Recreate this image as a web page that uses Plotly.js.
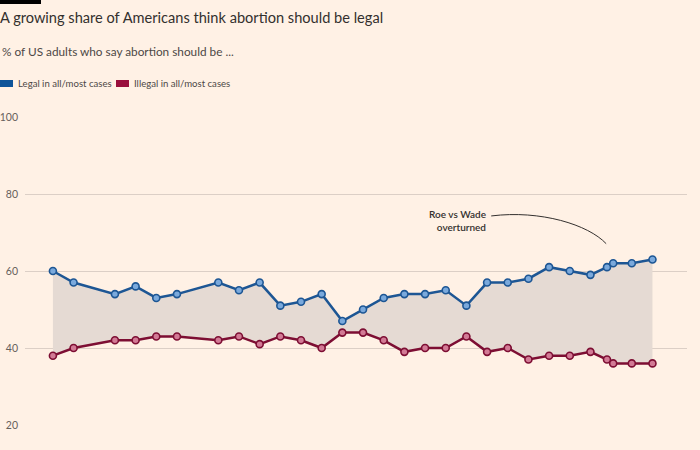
<!DOCTYPE html>
<html>
<head>
<meta charset="utf-8">
<script src="https://cdn.plot.ly/plotly-3.0.1.min.js"></script>
<style>
  html, body { margin: 0; padding: 0; background: #fff1e5; }
  #chart { width: 700px; height: 450px; }
</style>
</head>
<body>
<div id="chart"></div>
<script>
// Survey dates (decimal years)
const years = [1995, 1996, 1998, 1999, 2000, 2001, 2003, 2004, 2005, 2006, 2007, 2008, 2009,
  2010, 2011, 2012, 2013, 2014, 2015, 2016, 2017, 2018, 2019, 2020, 2021, 2021.8, 2022.1, 2023, 2024];
// % saying legal in all/most cases
const legal = [60, 57, 54, 56, 53, 54, 57, 55, 57, 51, 52, 54, 47,
  50, 53, 54, 54, 55, 51, 57, 57, 58, 61, 60, 59, 61, 62, 62, 63];
// % saying illegal in all/most cases
const illegal = [38, 40, 42, 42, 43, 43, 42, 43, 41, 43, 42, 40, 44,
  44, 42, 39, 40, 40, 43, 39, 40, 37, 38, 38, 39, 37, 36, 36, 36];
const seriesNames = ["Legal in all/most cases", "Illegal in all/most cases"];
const yTicks = [20, 40, 60, 80, 100];

const BLUE = "#1d5694", BLUE_FILL = "#7aa9dc";
const RED = "#7d0e33", RED_FILL = "#d27a95";
const BG = "#fff1e5";

const traces = [
  { x: years, y: illegal, mode: "lines", line: { width: 0, color: "rgba(0,0,0,0)" },
    showlegend: false, hoverinfo: "skip" },
  { x: years, y: legal, mode: "lines", fill: "tonexty", fillcolor: "#e5dad3",
    line: { width: 0, color: "rgba(0,0,0,0)" }, showlegend: false, hoverinfo: "skip" },
  { x: years, y: illegal, name: seriesNames[1], mode: "lines+markers",
    line: { color: RED, width: 2.5 },
    marker: { size: 7, color: RED_FILL, line: { color: RED, width: 1.6 } }, showlegend: false },
  { x: years, y: legal, name: seriesNames[0], mode: "lines+markers",
    line: { color: BLUE, width: 2.5 },
    marker: { size: 7, color: BLUE_FILL, line: { color: BLUE, width: 1.6 } }, showlegend: false }
];

const FONT = "Lato, sans-serif";

const layout = {
  width: 700, height: 450,
  paper_bgcolor: BG, plot_bgcolor: BG,
  margin: { l: 25, r: 13, t: 117, b: 25 },
  font: { family: FONT, color: "#66605c", size: 10 },
  showlegend: false,
  xaxis: { range: [1993.65, 2025.67], showgrid: false, zeroline: false,
    showticklabels: false, ticks: "", showline: false, fixedrange: true },
  yaxis: { range: [20, 100], tickvals: yTicks, ticktext: yTicks.map(String),
    showgrid: true, gridcolor: "#dccfc6", gridwidth: 1, zeroline: false,
    showline: false, ticks: "", ticklabelstandoff: 6,
    tickfont: { family: FONT, size: 10.5, color: "#66605c" }, fixedrange: true },
  title: { text: "A growing share of Americans think abortion should be legal",
    x: 0, xref: "container", xanchor: "left", y: 1 - 18 / 450, yref: "container", yanchor: "middle",
    font: { family: FONT, size: 14.6, color: "#33302e" }, pad: { l: 0, t: 0, b: 0, r: 0 } },
  shapes: [
    { type: "rect", xref: "paper", yref: "paper", x0: -25 / 662, x1: 16 / 662,
      y0: 1 + 113 / 308, y1: 1 + 117 / 308, fillcolor: "#000", line: { width: 0 } },
    { type: "rect", xref: "paper", yref: "paper", x0: -25 / 662, x1: -12 / 662,
      y0: 1 + (117 - 87) / 308, y1: 1 + (117 - 80) / 308, fillcolor: "#0f5499", line: { width: 0 } },
    { type: "rect", xref: "paper", yref: "paper", x0: 91 / 662, x1: 104 / 662,
      y0: 1 + (117 - 87) / 308, y1: 1 + (117 - 80) / 308, fillcolor: "#990f3d", line: { width: 0 } },
    { type: "path", xref: "x", yref: "y",
      path: "M 2016.2,74.3 C 2018.6,75.9 2020.9,72.0 2021.76,67.1",
      line: { color: "#33302e", width: 1 } }
  ],
  annotations: [
    { text: "% of US adults who say abortion should be ...", xref: "paper", yref: "paper",
      x: -25 / 662, y: 1 + (117 - 51) / 308, xanchor: "left", yanchor: "middle", showarrow: false,
      font: { family: FONT, size: 11.8, color: "#4d4845" } },
    { text: seriesNames[0], xref: "paper", yref: "paper",
      x: -9 / 662, y: 1 + (117 - 84) / 308, xanchor: "left", yanchor: "middle", showarrow: false,
      font: { family: FONT, size: 9.6, color: "#4d4845" } },
    { text: seriesNames[1], xref: "paper", yref: "paper",
      x: 107 / 662, y: 1 + (117 - 84) / 308, xanchor: "left", yanchor: "middle", showarrow: false,
      font: { family: FONT, size: 9.6, color: "#4d4845" } },
    { text: "Roe vs Wade<br>overturned", x: 2016.05, y: 73, xref: "x", yref: "y",
      xanchor: "right", yanchor: "middle", align: "right", showarrow: false,
      font: { family: FONT, size: 10, color: "#33302e", weight: 600 } }
  ]
};

Plotly.newPlot("chart", traces, layout, { displayModeBar: false, staticPlot: true });
</script>
</body>
</html>
